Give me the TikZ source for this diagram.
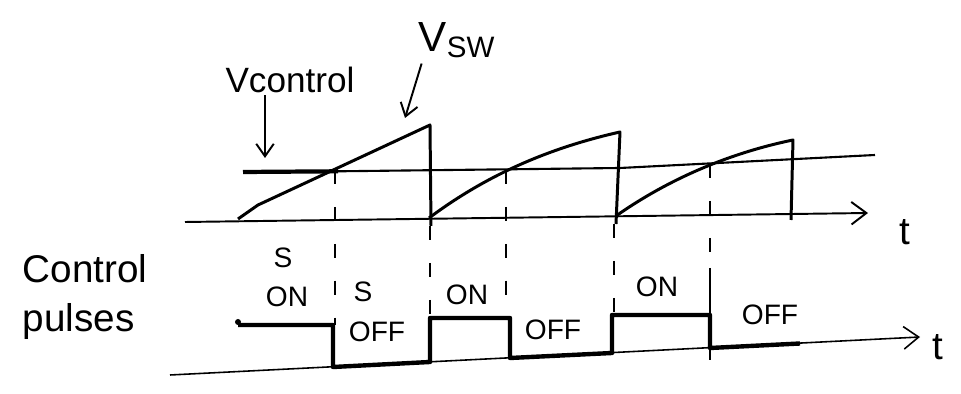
\documentclass[tikz,border=0pt]{standalone}
\usepackage{fontspec}
\setmainfont{Liberation Sans}
\usepackage{tikz}
\usetikzlibrary{arrows.meta}
\tikzset{
  axisln/.style={-{Straight Barb[length=3mm,width=4.5mm]}, line width=1.1pt},
  ramp/.style={line width=1.7pt, line join=round},
  pulse/.style={line width=2.5pt, line join=round},
  guide/.style={line width=1pt, dash pattern=on 8pt off 13pt},
  lbl/.style={font=\fontsize{16}{18}\selectfont, inner sep=1pt},
  pointer/.style={-{Straight Barb[length=2.5mm,width=3.5mm]}, line width=1.1pt}
}

\begin{document}
\begin{tikzpicture}[x=0.02cm, y=-0.02cm]
  \useasboundingbox (0,0) rectangle (961,394);

  % upper plot: axis, control level, sawtooth
  \coordinate (ta0) at (185,222);
  \coordinate (ta1) at (868,213);
  \draw[axisln] (ta0) -- (ta1);
  \node[lbl, font=\fontsize{22}{24}\selectfont] (tup) at (905,232) {t};

  \coordinate (vc0) at (243,172);
  \coordinate (vcm) at (620,168);
  \coordinate (vc1) at (875,155);
  \draw[line width=2.4pt] (vc0) -- (338,171.3);
  \draw[line width=1.2pt] (338,171.3) -- (vcm) -- (vc1);

  \draw[ramp] (238,219) -- (258,205) -- (430,125) -- (431,226);
  \draw[ramp] (429,218) .. controls (480,180) and (540,150) .. (620,132) -- (616,224);
  \draw[ramp] (616,216) .. controls (660,185) and (720,155) .. (793,140) -- (791,220);

  \node[font=\fontsize{20}{22}\selectfont, inner sep=1pt] (vctl) at (290,80) {Vcontrol};
  \node[font=\fontsize{24}{26}\selectfont, inner sep=1pt] (vsw) at (457,40) {V\textsubscript{SW}};
  \coordinate (vctlhead) at (265,158);
  \coordinate (vswhead) at (405,118);
  \draw[pointer] ([xshift=-0.5cm]vctl.south) -- (vctlhead);
  \draw[pointer] ([xshift=0.1cm,yshift=-2pt]vsw.south west) -- (vswhead);

  % guides down to the pulses
  \draw[guide] (335,170) -- (335,325);
  \draw[guide] (430,226) -- (430,318);
  \draw[guide] (506,170) -- (506,318);
  \draw[guide] (614,224) -- (614,315);
  \draw[guide] (710,164) -- (710,268);

  % lower plot: control pulses
  \coordinate (tb0) at (170,375);
  \coordinate (tb1) at (920,337);
  \draw[axisln, line width=0.9pt] (tb0) -- (tb1);
  \node[lbl, font=\fontsize{22}{24}\selectfont] (tlow) at (938,347) {t};

  \draw[pulse] (238,325) -- (333,325) -- (333,367) -- (430,362) -- (430,318)
    -- (510,318) -- (510,358) -- (612,353) -- (612,315) -- (710,315)
    -- (710,348) -- (800,343.5);
  \draw[line width=1.1pt] (710,268) -- (710,360);
  \fill (238,322) circle (3);

  \node[font=\fontsize{22}{28}\selectfont, align=left, inner sep=1pt] (ctl) at (85,297) {Control\\pulses};

  \node[lbl] (s1) at (283,258) {S};
  \node[lbl] (on1) at (287,297) {ON};
  \node[lbl] (s2) at (363,292) {S};
  \node[lbl] (off1) at (377,332) {OFF};
  \node[lbl] (on2) at (467,295) {ON};
  \node[lbl] (off2) at (553,330) {OFF};
  \node[lbl] (on3) at (657,287) {ON};
  \node[lbl] (off3) at (770,315) {OFF};
\end{tikzpicture}
\end{document}
